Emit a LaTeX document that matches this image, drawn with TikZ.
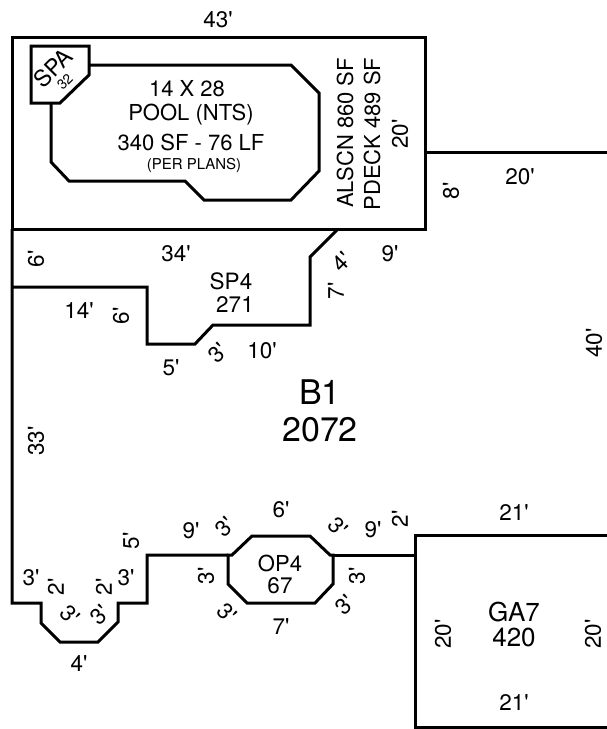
\documentclass[tikz,border=0pt]{standalone}
\usepackage{fontspec}
\newfontfamily\hv{TeX Gyre Heros}
\tikzset{
  wall/.style={line width=3pt,line join=miter,line cap=butt,black},
  lab/.style={inner sep=0pt,font=\hv\fontsize{22.5}{22.5}\selectfont,text=black},
  big/.style={inner sep=0pt,font=\hv\fontsize{22}{22}\selectfont},
  huge/.style={inner sep=0pt,font=\hv\fontsize{34}{34}\selectfont},
  mid/.style={inner sep=0pt,font=\hv\fontsize{26}{26}\selectfont},
  tiny/.style={inner sep=0pt,font=\hv\fontsize{15}{15}\selectfont}
}
\begin{document}
\begin{tikzpicture}[x=1pt,y=-1pt]
\useasboundingbox (0,0) rectangle (607,729);
\fill[white] (0,0) rectangle (607,729);
% outer house and yard
\draw[wall] (12,37) rectangle (425,229);
\draw[wall] (425,152) -- (607,152);
\draw[wall] (12,229) -- (12,603) -- (41,603) -- (41,623) -- (60,642) -- (98,642) -- (118,622) -- (118,603) -- (147,603) -- (147,555) -- (228,555);
\draw[wall] (12,287) -- (147,287) -- (147,344) -- (195,344) -- (213,325) -- (310,325) -- (310,257) -- (338,229);
% pool and spa
\draw[wall] (89,65) -- (291,65) -- (319,93) -- (319,171) -- (291,200) -- (204,200) -- (185,181) -- (69,181) -- (51,162) -- (51,104);
\draw[wall] (31,46) -- (89,46) -- (89,75) -- (60,103) -- (31,103) -- cycle;
% OP4
\draw[wall] (228,555) -- (232,555) -- (252,536) -- (310,536) -- (330,555) -- (333,555) -- (333,584) -- (315,603) -- (247,603) -- (228,584) -- cycle;
\draw[wall] (333,555) -- (415,555);
% GA7
\draw[wall] (607,535) -- (415,535) -- (415,727) -- (607,727);
% text
\node[lab] (t43) at (218,20) {43'};
\node[big,rotate=45,font=\hv\fontsize{23}{23}\selectfont] (spa) at (53,68) {SPA};
\node[inner sep=0pt,rotate=45,font=\hv\fontsize{14}{14}\selectfont] (s32) at (65,82) {32};
\node[big] (p1) at (187,89) {14 X 28};
\node[big] (p2) at (191,115) {POOL (NTS)};
\node[big] (p3) at (191,142) {340 SF - 76 LF};
\node[tiny] (p4) at (194,165) {(PER PLANS)};
\node[big,rotate=90] (alscn) at (345,133) {ALSCN 860 SF};
\node[big,rotate=90] (pdeck) at (372,134) {PDECK 489 SF};
\node[lab,rotate=90] (t20a) at (400,134) {20'};
\node[lab] (t20b) at (520,177) {20'};
\node[lab,rotate=90] (t8) at (451,191) {8'};
\node[lab] (t9a) at (390,254) {9'};
\node[lab,rotate=90] (t40) at (594,343) {40'};
\node[lab,rotate=90] (t6a) at (36,259) {6'};
\node[lab] (t34) at (176,254) {34'};
\node[lab] (sp1) at (231,281) {SP4};
\node[lab] (sp2) at (235,305) {271};
\node[lab] (t14) at (79,311) {14'};
\node[lab,rotate=90] (t6b) at (121,316) {6'};
\node[lab] (t5a) at (171,368) {5'};
\node[lab,rotate=45] (t3a) at (218,353) {3'};
\node[lab] (t10) at (262,351) {10'};
\node[lab,rotate=45] (t4a) at (342,262) {4'};
\node[lab,rotate=90] (t7) at (336,291) {7'};
\node[huge] (b1) at (320,392) {B1};
\node[huge] (b2) at (320,430) {2072};
\node[lab,rotate=90] (t33) at (36,441) {33'};
\node[lab,rotate=90] (t5b) at (131,541) {5'};
\node[lab] (t9b) at (191,531) {9'};
\node[lab,rotate=45] (t3b) at (225,527) {3'};
\node[lab] (t6c) at (281,510) {6'};
\node[lab,rotate=-45] (t3c) at (338,527) {3'};
\node[lab] (t9c) at (373,530) {9'};
\node[lab,rotate=90] (t2a) at (400,519) {2'};
\node[lab] (t21a) at (514,513) {21'};
\node[lab] (t3d) at (31,578) {3'};
\node[lab,rotate=90] (t2b) at (56,587) {2'};
\node[lab,rotate=90] (t2c) at (104,587) {2'};
\node[lab] (t3e) at (126,578) {3'};
\node[lab,rotate=-45] (t3f) at (70,615) {3'};
\node[lab,rotate=45] (t3g) at (100,615) {3'};
\node[lab] (t4b) at (79,664) {4'};
\node[lab,rotate=90] (t3h) at (206,576) {3'};
\node[big] (o1) at (280,563) {OP4};
\node[lab] (o2) at (280,586) {67};
\node[lab,rotate=90] (t3i) at (357,576) {3'};
\node[lab,rotate=-45] (t3j) at (227,613) {3'};
\node[lab,rotate=45] (t3k) at (345,605) {3'};
\node[lab] (t7b) at (281,627) {7'};
\node[lab,rotate=90] (t20c) at (443,634) {20'};
\node[mid] (g1) at (514,612) {GA7};
\node[mid] (g2) at (514,637) {420};
\node[lab,rotate=90] (t20d) at (593,634) {20'};
\node[lab] (t21b) at (514,703) {21'};
\end{tikzpicture}
\end{document}
